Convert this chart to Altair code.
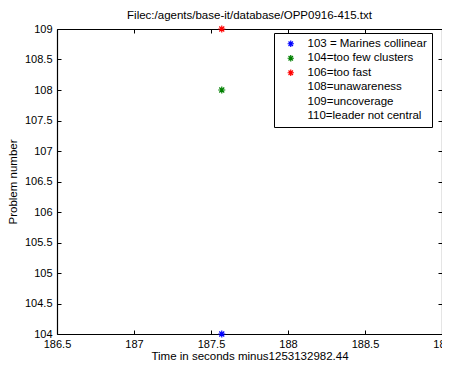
import altair as alt
import pandas as pd

times = [187.57, 187.57, 187.57]
problems = [104, 108, 109]
kinds = ["103 = Marines collinear", "104=too few clusters", "106=too fast"]

legend_labels = ["103 = Marines collinear", "104=too few clusters", "106=too fast",
                 "108=unawareness", "109=uncoverage", "110=leader not central"]
legend_colors = ["#0000FF", "#008000", "#FF0000", "#FFFFFF", "#FFFFFF", "#FFFFFF"]

x_ticks = [186.5, 187, 187.5, 188, 188.5, 189]
y_ticks = [104, 104.5, 105, 105.5, 106, 106.5, 107, 107.5, 108, 108.5, 109]

df = pd.DataFrame({"t": times, "p": problems, "k": kinds})

W, H = 385, 305
FONT = "Liberation Sans"
star = "M-1,0L1,0M0,-1L0,1M-0.7,-0.7L0.7,0.7M-0.7,0.7L0.7,-0.7"

xs = alt.Scale(domain=[186.5, 189], nice=False, zero=False)
ys = alt.Scale(domain=[104, 109], nice=False, zero=False)

main = alt.Chart(df).mark_point(shape=star, filled=False, size=50, strokeWidth=1.2, opacity=1).encode(
    x=alt.X("t:Q", scale=xs, axis=alt.Axis(orient="bottom", values=x_ticks, format="~g", grid=False,
            domain=True, domainColor="black", domainWidth=1.2,
            ticks=False, labelFont=FONT, labelFontSize=11, labelColor="black", labelPadding=4,
            title="Time in seconds minus1253132982.44", titleFont=FONT, titleFontSize=11.5,
            titleColor="black", titleFontWeight="normal", titlePadding=1, labelFlush=False)),
    y=alt.Y("p:Q", scale=ys, axis=alt.Axis(orient="left", values=y_ticks, format="~g", grid=False,
            domain=True, domainColor="black", domainWidth=1.2,
            ticks=False, labelFont=FONT, labelFontSize=11, labelColor="black", labelPadding=5,
            title="Problem number", titleFont=FONT, titleFontSize=11.5, titleColor="black",
            titleFontWeight="normal", titlePadding=6, labelFlush=False)),
    color=alt.Color("k:N", scale=alt.Scale(domain=legend_labels, range=legend_colors),
                    legend=alt.Legend(title=None, orient="none", legendX=217, legendY=4,
                                      strokeColor="black", fillColor="white", padding=5,
                                      labelFont=FONT, labelFontSize=11.5, labelColor="black",
                                      symbolType=star, symbolSize=40, symbolStrokeWidth=1.2,
                                      symbolFillColor="transparent", rowPadding=1.5,
                                      symbolOffset=6, labelOffset=11, labelLimit=300,
                                      cornerRadius=0)),
)

def tick_layer(xorient, xoff, yorient, yoff, dom):
    return alt.Chart(df).mark_point(opacity=0).encode(
        x=alt.X("t:Q", scale=xs, axis=alt.Axis(orient=xorient, offset=xoff, values=x_ticks,
                grid=False, domain=dom, domainColor="black", domainWidth=1.2, labels=False,
                ticks=True, tickSize=4, tickColor="black", title=None)),
        y=alt.Y("p:Q", scale=ys, axis=alt.Axis(orient=yorient, offset=yoff, values=y_ticks,
                grid=False, domain=dom, domainColor="black", domainWidth=1.2, labels=False,
                ticks=True, tickSize=4, tickColor="black", title=None)),
    )

t1 = tick_layer("top", -H, "right", -W, False)
t2 = tick_layer("bottom", -H, "left", -W, True)

chart = alt.layer(t1, t2, main).resolve_axis(x="independent", y="independent").properties(
    width=W, height=H,
    title=alt.Title("Filec:/agents/base-it/database/OPP0916-415.txt", font=FONT, fontSize=11.5,
                    fontWeight="normal", color="black", offset=2),
    autosize=alt.AutoSizeParams(type="none"),
    padding={"left": 49, "top": 21, "right": 0, "bottom": 28},
).configure_view(stroke=None).configure(background="white")

chart.save("out.html", embed_options={"renderer": "svg", "actions": False})
